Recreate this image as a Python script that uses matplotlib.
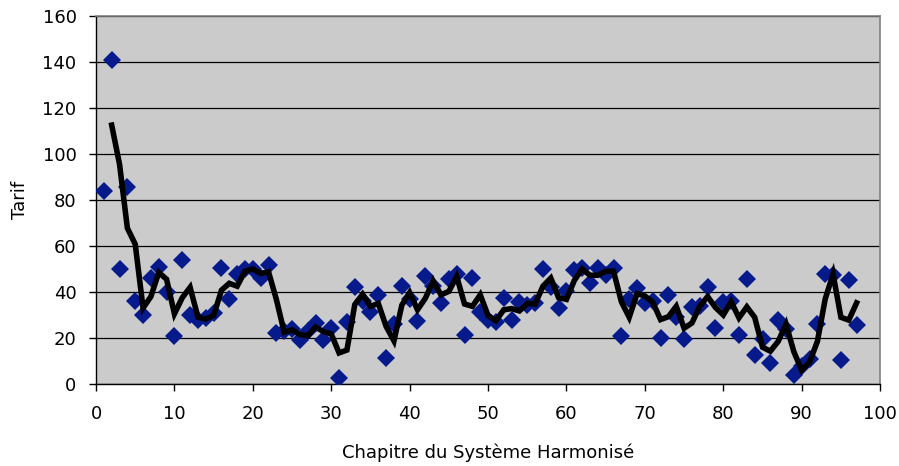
import numpy as np
import matplotlib.pyplot as plt

# Tarif moyen par chapitre du SH (chapitres 1 a 97)
chapitres = np.arange(1, 98)
tarifs = [
    84, 141, 50, 85.5, 36, 30, 46, 51, 40, 21,
    54, 30, 28, 28.5, 31, 50.5, 37, 48, 50, 50,
    46, 51.5, 22, 23, 24, 19, 23, 26.5, 19, 24.5,
    2.5, 27, 42, 36, 31.5, 38.5, 11.5, 26, 42.5, 37,
    27.5, 47, 42.5, 35, 45.5, 48, 21.5, 46, 31.5, 28,
    27, 37.5, 28, 35.5, 34.5, 35, 50, 42, 33, 40.5,
    49.5, 50.5, 44, 50.5, 47.5, 50.5, 21, 37, 41.5, 35,
    36, 20, 38.5, 29, 19.5, 33.5, 34, 42, 24.5, 35.5,
    36, 21.5, 45.5, 12.5, 19.5, 9, 28, 24, 4, 8,
    11, 26, 48, 47.5, 10.5, 45, 25.5,
]
tarifs = np.array(tarifs, dtype=float)

# moyenne mobile sur 2 periodes
moy_mobile = (tarifs[:-1] + tarifs[1:]) / 2

fig = plt.figure(figsize=(8.99, 4.66), dpi=100)
ax = fig.add_axes([0.1068, 0.176, 0.8722, 0.79])
ax.set_facecolor('#CBCBCB')

ax.plot(chapitres, tarifs, 'D', color='#061A8C', markersize=9.3,
        markeredgewidth=0, zorder=3)
ax.plot(chapitres[1:], moy_mobile, '-', color='black', linewidth=4,
        solid_joinstyle='miter', zorder=4)

ax.set_xlim(0, 100)
ax.set_ylim(0, 160)
ax.set_xticks(range(0, 101, 10))
ax.set_yticks(range(0, 161, 20))
ax.yaxis.grid(True, color='black', linewidth=0.9)
ax.set_axisbelow(True)

for s in ['top', 'right']:
    ax.spines[s].set_color('#808080')
    ax.spines[s].set_linewidth(1.2)
for s in ['left', 'bottom']:
    ax.spines[s].set_color('black')
    ax.spines[s].set_linewidth(1.0)

ax.tick_params(axis='both', direction='out', length=5, width=1, color='black',
               labelsize=13)
ax.tick_params(axis='x', pad=10)
ax.tick_params(axis='y', pad=9)

ax.set_xlabel('Chapitre du Système Harmonisé', fontsize=13, labelpad=15)
ax.set_ylabel('Tarif', fontsize=13, labelpad=10)

fig.savefig('out.png', dpi=100)
